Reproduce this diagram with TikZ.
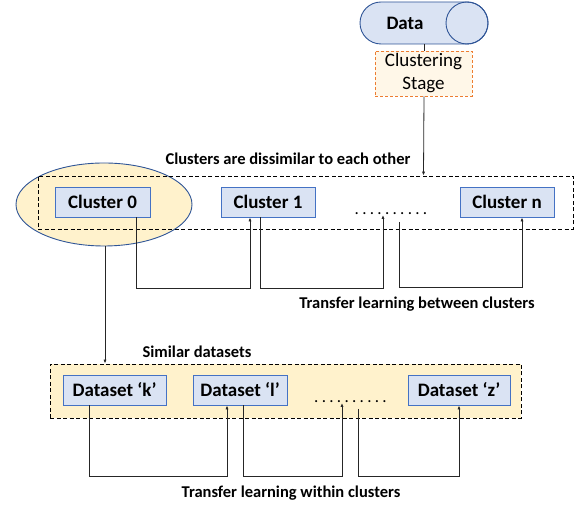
\documentclass[tikz,border=0pt]{standalone}
\usepackage{fontspec}
\setmainfont{Carlito}
\usetikzlibrary{arrows.meta,positioning,shapes.geometric}
\definecolor{boxblue}{HTML}{DAE3F3}
\definecolor{edgeblue}{HTML}{4472C4}
\definecolor{darkblue}{HTML}{2F5597}
\definecolor{paleyellow}{HTML}{FFF2CC}
\definecolor{cream}{HTML}{FFF7E8}
\definecolor{orangeedge}{HTML}{ED7D31}
\newcommand\dotrowtext{.\hspace{3.3pt}.\hspace{3.3pt}.\hspace{3.3pt}.\hspace{3.3pt}.\hspace{3.3pt}.\hspace{3.3pt}.\hspace{3.3pt}.\hspace{3.3pt}.\hspace{3.3pt}.}
\tikzset{
  clusterbox/.style={draw=edgeblue, fill=boxblue, line width=0.9pt, minimum height=30pt, inner sep=0pt,
    font=\fontsize{19}{22}\selectfont\bfseries},
  heading/.style={font=\fontsize{16.5}{20}\selectfont\bfseries, inner sep=0pt},
  groupframe/.style={draw=black, line width=0.8pt, dash pattern=on 4pt off 2.5pt},
  conn/.style={draw=black!85, line width=0.8pt},
  arr/.style={conn, -{Latex[length=4pt,width=3.2pt]}},
  dotrow/.style={inner sep=0pt, anchor=base, font=\fontsize{17}{20}\selectfont}
}
\begin{document}
\begin{tikzpicture}[x=1pt,y=1pt]
\useasboundingbox (0,0) rectangle (584,508);

% data store drawn as a horizontal cylinder
\path[fill=boxblue, draw=darkblue, line width=0.9pt]
  (381,506) -- (467,506) arc[start angle=90, end angle=-90, radius=21]
  -- (381,464) arc[start angle=270, end angle=90, radius=21] -- cycle;
\draw[darkblue, line width=0.9pt] (467,485) circle[radius=21];
\node[font=\fontsize{19}{22}\selectfont\bfseries, inner sep=0pt] (data) at (405,485) {Data};
\coordinate (databot) at (424,464);

% clustering stage
\node[draw=orangeedge, fill=cream, line width=0.9pt, dash pattern=on 3pt off 2pt,
      minimum width=97pt, minimum height=45pt, inner sep=0pt, align=center,
      font=\fontsize{19}{23}\selectfont] (stage) at (423.5,434.5) {Clustering\\Stage};
\draw[conn] (databot) -- (databot |- stage.north);

% cluster level
\node[heading] (h1) at (288,349) {Clusters are dissimilar to each other};
\node[draw=darkblue, fill=paleyellow, line width=0.9pt, ellipse, minimum width=176pt,
      minimum height=83pt, inner sep=0pt] (ell) at (104,303.5) {};
\node[groupframe, minimum width=535pt, minimum height=53pt, inner sep=0pt] (clframe) at (305.5,305.5) {};
\node[clusterbox, minimum width=95pt] (c0) at (102.5,306) {Cluster 0};
\node[clusterbox, minimum width=94pt] (c1) at (268,306) {Cluster 1};
\node[clusterbox, minimum width=94pt] (cn) at (507,306) {Cluster n};
\node[dotrow] (dots1) at (391,293.5) {\dotrowtext};
\coordinate (d1in) at (383,293);
\coordinate (d1out) at (399,286);

\draw[arr] ([xshift=0.5pt]stage.south) -- (stage.south |- clframe.north);

\draw[arr] ([xshift=33.5pt]c0.south) -- ++(0,-71) -| ([xshift=-18pt]c1.south);
\draw[arr] ([xshift=-8pt]c1.south) -- ++(0,-71) -| (d1in);
\draw[arr] (d1out) -- (399,221) -| ([xshift=15pt]cn.south);
\node[heading] (h2) at (417,204) {Transfer learning between clusters};

% dataset level
\node[heading] (h3) at (197,156) {Similar datasets};
\node[groupframe, fill=paleyellow, minimum width=471pt, minimum height=54pt, inner sep=0pt] (dsframe) at (285.5,117) {};
\node[clusterbox, minimum width=103pt] (dk) at (114.5,118) {Dataset ‘k’};
\node[clusterbox, minimum width=94pt] (dl) at (240,118) {Dataset ‘l’};
\node[clusterbox, minimum width=102pt] (dz) at (459,118) {Dataset ‘z’};
\node[dotrow] (dots2) at (350.5,105.5) {\dotrowtext};
\coordinate (d2in) at (342,105);
\coordinate (d2out) at (358,99);

\draw[arr] ([xshift=1pt]ell.south) -- ([xshift=1pt]ell.south |- dsframe.north);

\draw[arr] ([xshift=-25.5pt]dk.south) -- (89,32) -| ([xshift=-13pt]dl.south);
\draw[arr] ([xshift=3pt]dl.south) -- (243,32) -| (d2in);
\draw[arr] (d2out) -- (358,32) -| (dz.south);
\node[heading] (h4) at (291,15) {Transfer learning within clusters};
\end{tikzpicture}
\end{document}
